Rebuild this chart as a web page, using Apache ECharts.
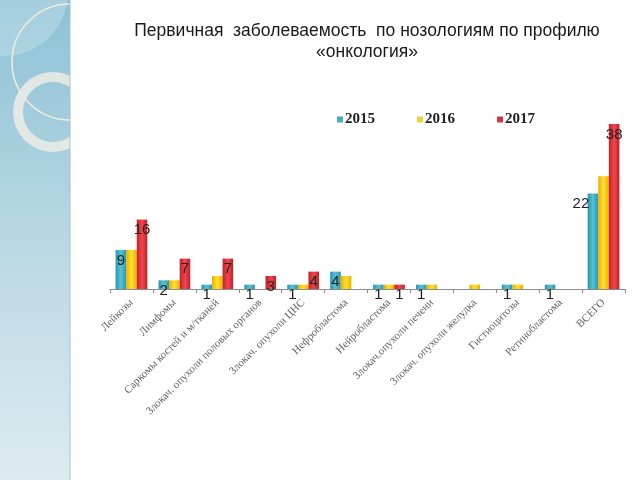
<!DOCTYPE html>
<html>
<head>
<meta charset="utf-8">
<script src="https://cdn.jsdelivr.net/npm/echarts@6/dist/echarts.min.js"></script>
<style>html,body{margin:0;padding:0;background:#fff}#c{width:640px;height:480px}</style>
</head>
<body>
<div id="c"></div>
<script>
var categories = ["Лейкозы","Лимфомы","Саркомы костей и м/тканей","Злокач. опухоли половых органов","Злокач. опухоли ЦНС","Нефробластома","Нейробластома","Злокач.опухоли печени","Злокач. опухоли желудка","Гистиоцитозы","Ретинобластома","ВСЕГО"];
var seriesNames = ["2015","2016","2017"];
var v2015 = [9,2,1,1,1,4,1,1,0,1,1,22];
var v2016 = [9,2,3,0,1,3,1,1,1,1,0,26];
var v2017 = [16,7,7,3,4,0,1,0,0,0,0,38];

var chart = echarts.init(document.getElementById('c'), null, {renderer:'canvas'});

function grad(edge, mid){
  return new echarts.graphic.LinearGradient(0,0,1,0,[
    {offset:0,color:edge},{offset:0.5,color:mid},{offset:1,color:edge}]);
}
var barColors = [grad('#2E94A8','#52C3D9'), grad('#EDAE00','#FFE22E'), grad('#BE222A','#F2464D')];
var legendColors = ['#45ADC0','#EED23A','#D23A40'];
function nz(p){ return p.value ? String(p.value) : ''; }

var lab = {show:true, position:'insideTop', distance:3, color:'#222', fontSize:15, fontFamily:'Liberation Sans, Arial, sans-serif', formatter:nz};

var d2015 = v2015.map(function(v,i){
  if (i === v2015.length-1) return {value:v, label:{offset:[-12,0]}};
  return v;
});

var option = {
  animation:false,
  backgroundColor:'#fff',
  title:{
    text:'Первичная  заболеваемость  по нозологиям по профилю\n«онкология»',
    left:362, top:16, textAlign:'center',
    textStyle:{fontFamily:'Liberation Sans, Arial, sans-serif', fontSize:17.5, fontWeight:'normal', color:'#1a1a1a', lineHeight:21}
  },
  legend:{
    left:332, top:107, itemWidth:6, itemHeight:6, itemGap:42, icon:'rect',
    data:seriesNames.map(function(n,i){return {name:n, itemStyle:{color:legendColors[i]}};}),
    textStyle:{fontFamily:'Liberation Serif, Times New Roman, serif', fontWeight:'bold', fontSize:15, color:'#222', padding:[0,0,0,-3]}
  },
  grid:{left:110, right:15, top:115.4, bottom:191},
  xAxis:{
    type:'category', data:categories,
    axisLine:{lineStyle:{color:'#8c8c8c', width:1}},
    axisTick:{show:true, length:4, lineStyle:{color:'#8c8c8c'}},
    axisLabel:{rotate:45, interval:0, margin:12, color:'#606060', fontSize:11, fontFamily:'Liberation Serif, Times New Roman, serif'}
  },
  yAxis:{type:'value', min:0, max:40, show:false, splitLine:{show:false}},
  series:[
    {name:'2015', type:'bar', data:d2015, barGap:'0%', barCategoryGap:'26%', itemStyle:{color:barColors[0]}, label:lab},
    {name:'2016', type:'bar', data:v2016, itemStyle:{color:barColors[1]}},
    {name:'2017', type:'bar', data:v2017, itemStyle:{color:barColors[2]}, label:lab}
  ],
  graphic:[
    {type:'rect', z:-20, silent:true, shape:{x:0,y:0,width:70,height:480},
      style:{fill:new echarts.graphic.LinearGradient(0,0,0,1,[{offset:0,color:'#8CC2D7'},{offset:0.5,color:'#B9D8E3'},{offset:1,color:'#DDEBF0'}])}},
    {type:'circle', z:-19, silent:true, shape:{cx:4,cy:-8,r:64}, style:{fill:'rgba(255,255,255,0.22)'}},
    {type:'circle', z:-18, silent:true, shape:{cx:70,cy:62,r:58}, style:{fill:'none', stroke:'#F2EDD6', lineWidth:1.5}},
    {type:'circle', z:-18, silent:true, shape:{cx:53,cy:112,r:35}, style:{fill:'none', stroke:'rgba(236,236,230,0.85)', lineWidth:10}},
    {type:'rect', z:-17, silent:true, shape:{x:70,y:0,width:570,height:480}, style:{fill:'#fff'}},
    {type:'rect', z:-16, silent:true, shape:{x:69.5,y:0,width:1,height:480}, style:{fill:'#A9C2CA'}}
  ]
};
chart.setOption(option);
</script>
</body>
</html>
